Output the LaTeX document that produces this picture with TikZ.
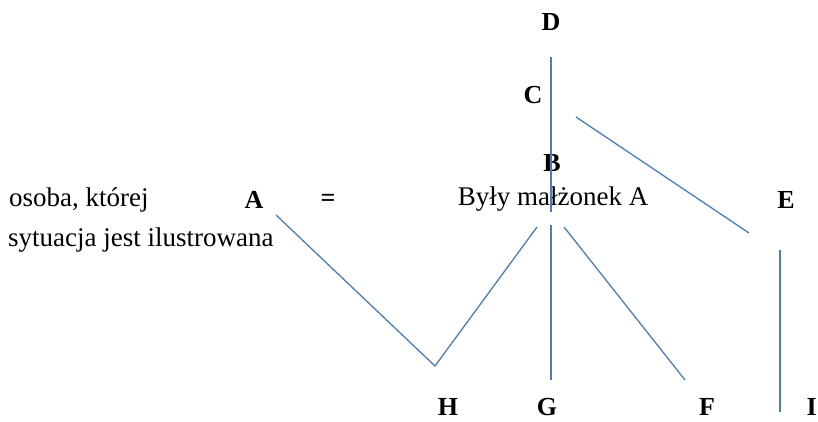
\documentclass[tikz,border=0pt]{standalone}
\usepackage{fontspec}
\setmainfont{Liberation Serif}
\begin{document}
\begin{tikzpicture}[x=1pt,y=-1pt,
  lbl/.style={font=\fontsize{26}{28}\selectfont\bfseries, inner sep=0pt},
  txt/.style={font=\fontsize{27}{29}\selectfont, inner sep=0pt},
  conn/.style={line width=1.3pt, color={rgb,255:red,74;green,126;blue,187}}]
\path[use as bounding box] (0,0) rectangle (818,421);
\begin{scope}
\clip (0,0) rectangle (818,421);
\node[lbl] (D) at (551,22) {D};
\node[lbl] (C) at (533,95) {C};
\node[lbl] (B) at (552,163) {B};
\node[lbl] (A) at (254,200) {A};
\node[lbl] (eq) at (328,200) {=};
\node[txt] (byly) at (553,199) {Były małżonek A};
\node[txt, anchor=west] (osoba) at (9,200) {osoba, której};
\node[txt, anchor=west] (syt) at (8,240) {sytuacja jest ilustrowana};
\node[lbl] (E) at (786,200) {E};
\node[lbl] (H) at (448,407) {H};
\node[lbl] (G) at (547,407) {G};
\node[lbl] (F) at (707,407) {F};
\node[lbl, anchor=east] (I) at (817,407) {I};
\coordinate (d1) at (551,57);
\coordinate (d2) at (551,212);
\coordinate (c1) at (576,117);
\coordinate (c2) at (749,233);
\coordinate (a1) at (276,215);
\coordinate (h1) at (435,366);
\coordinate (b1) at (537,227);
\coordinate (g1) at (551,225);
\coordinate (g2) at (551,380);
\coordinate (b2) at (564,227);
\coordinate (f1) at (685,380);
\coordinate (e1) at (780,250);
\coordinate (e2) at (780,412);
\draw[conn] (d1) -- (d2);
\draw[conn] (c1) -- (c2);
\draw[conn] (a1) -- (h1) -- (b1);
\draw[conn] (g1) -- (g2);
\draw[conn] (b2) -- (f1);
\draw[conn] (e1) -- (e2);
\end{scope}
\end{tikzpicture}
\end{document}
